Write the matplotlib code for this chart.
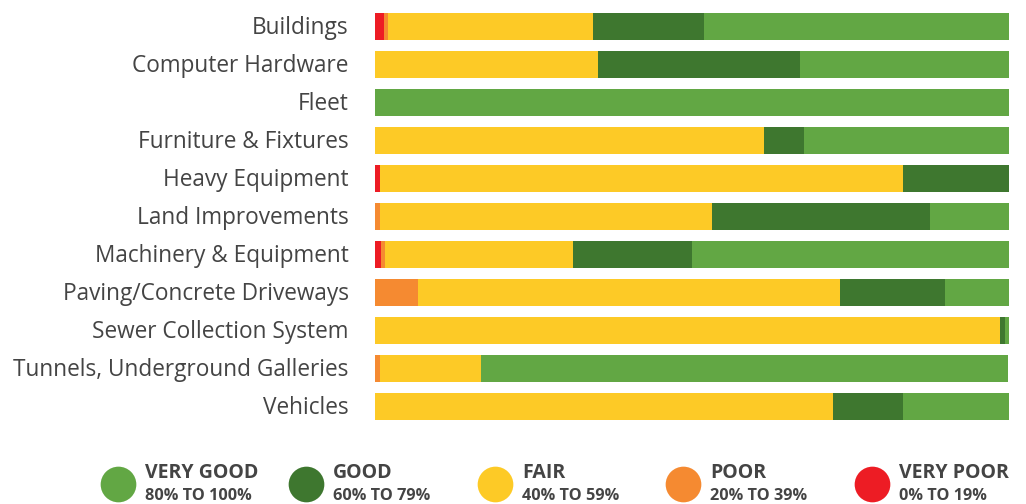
import numpy as np
import matplotlib.pyplot as plt
import matplotlib.transforms as mtransforms

plt.rcParams['font.family'] = ['Open Sans', 'DejaVu Sans']

categories = [
    "Buildings", "Computer Hardware", "Fleet", "Furniture & Fixtures",
    "Heavy Equipment", "Land Improvements", "Machinery & Equipment",
    "Paving/Concrete Driveways", "Sewer Collection System",
    "Tunnels, Underground Galleries", "Vehicles",
]

# percent of each asset class in each condition band
very_poor = [1.4, 0.0, 0.0, 0.0, 0.8, 0.0, 0.9, 0.0, 0.0, 0.0, 0.0]
poor      = [0.6, 0.0, 0.0, 0.0, 0.0, 0.8, 0.6, 6.8, 0.0, 0.8, 0.0]
fair      = [32.4, 35.2, 0.0, 61.4, 82.5, 52.4, 29.7, 66.6, 98.6, 15.9, 72.3]
good      = [17.5, 31.9, 0.0, 6.3, 16.7, 34.4, 18.9, 16.6, 0.9, 0.0, 11.0]
very_good = [48.1, 32.9, 100.0, 32.3, 0.0, 12.4, 49.9, 10.0, 0.5, 83.3, 16.7]

series = [very_poor, poor, fair, good, very_good]
colors = ["#ed1c24", "#f58a31", "#fdca26", "#3e772f", "#62a744"]
legend_titles = ["VERY GOOD", "GOOD", "FAIR", "POOR", "VERY POOR"]
legend_ranges = ["80% TO 100%", "60% TO 79%", "40% TO 59%", "20% TO 39%", "0% TO 19%"]
legend_colors = ["#62a744", "#3e772f", "#fdca26", "#f58a31", "#ed1c24"]

W, H = 1026, 504
fig = plt.figure(figsize=(W / 100, H / 100), dpi=100)
ax = fig.add_axes([375 / W, 1 - 425.5 / H, 633.5 / W, 418 / H])

y = np.arange(len(categories))
left = np.zeros(len(categories))
for vals, c in zip(series, colors):
    vals = np.array(vals)
    ax.barh(y, vals, left=left, height=0.71, color=c, linewidth=0)
    left += vals

ax.set_xlim(0, 100)
ax.set_ylim(len(categories) - 0.5, -0.5)
ax.set_yticks(y)
ax.set_yticklabels(categories, fontsize=16.3, color="#444444")
ax.tick_params(axis="y", length=0, pad=19)
# labels sit a touch above the bar centres
shift = mtransforms.ScaledTranslation(0, 2 / 100, fig.dpi_scale_trans)
for lab in ax.get_yticklabels():
    lab.set_transform(lab.get_transform() + shift)
ax.set_xticks([])
for s in ax.spines.values():
    s.set_visible(False)

# legend row
lx = [118, 306, 495, 683, 872]
leg = fig.add_axes([0, 0, 1, 1], zorder=-1)
leg.set_xlim(0, W)
leg.set_ylim(H, 0)
leg.axis("off")
for x0, t, r, c in zip(lx, legend_titles, legend_ranges, legend_colors):
    leg.scatter([x0], [484], s=660, color=c, linewidths=0)
    leg.text(x0 + 27, 473, t, fontsize=14, fontweight="bold", color="#444444", va="center")
    leg.text(x0 + 27, 496, r, fontsize=11.7, fontweight="bold", color="#444444", va="center")

fig.savefig("out.png", dpi=100)
